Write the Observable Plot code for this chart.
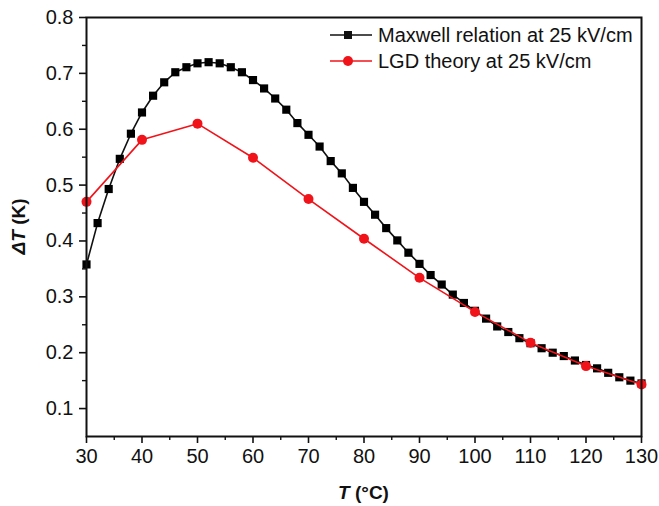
<!DOCTYPE html>
<html>
<head>
<meta charset="utf-8">
<script src="https://cdn.jsdelivr.net/npm/d3@7"></script>
<script src="https://cdn.jsdelivr.net/npm/@observablehq/plot@0.6"></script>
<style>
  html, body { margin: 0; padding: 0; background: #fff; }
  #chart { position: relative; width: 659px; height: 506px; font-family: "Liberation Sans", Arial, sans-serif; }
  #legend { position: absolute; left: 328px; top: 22px; font-size: 20px; color: #111; }
  #legend .row { display: flex; align-items: center; height: 26px; }
  #legend svg { margin-right: 4px; }
</style>
</head>
<body>
<div id="chart"></div>
<script>
// Temperature (°C) of the Maxwell-relation curve, every 2 °C
const maxwellT = d3.range(30, 131, 2);
// ΔT (K) from the Maxwell relation at 25 kV/cm
const maxwellDT = [
  0.358, 0.432, 0.493, 0.547, 0.592, 0.630, 0.660, 0.684, 0.702, 0.711,
  0.718, 0.720, 0.718, 0.711, 0.702, 0.688, 0.673, 0.655, 0.635, 0.611,
  0.590, 0.569, 0.543, 0.521, 0.495, 0.470, 0.447, 0.423, 0.401, 0.379,
  0.359, 0.339, 0.322, 0.304, 0.289, 0.275, 0.261, 0.247, 0.237, 0.226,
  0.217, 0.208, 0.200, 0.194, 0.186, 0.178, 0.172, 0.164, 0.156, 0.150,
  0.145
];
// Temperature (°C) and ΔT (K) from LGD theory at 25 kV/cm
const lgdT = [30, 40, 50, 60, 70, 80, 90, 100, 110, 120, 130];
const lgdDT = [0.470, 0.581, 0.610, 0.549, 0.475, 0.404, 0.334, 0.273, 0.218, 0.176, 0.143];

const xTicks = [30, 40, 50, 60, 70, 80, 90, 100, 110, 120, 130];
const xMinor = [35, 45, 55, 65, 75, 85, 95, 105, 115, 125];
const yTicks = [0.1, 0.2, 0.3, 0.4, 0.5, 0.6, 0.7, 0.8];
const yMinor = [0.15, 0.25, 0.35, 0.45, 0.55, 0.65, 0.75];

const seriesNames = ["Maxwell relation at 25 kV/cm", "LGD theory at 25 kV/cm"];

const maxwell = maxwellT.map((t, i) => ({t, dT: maxwellDT[i]}));
const lgd = lgdT.map((t, i) => ({t, dT: lgdDT[i]}));

const W = 659, H = 506;
const mL = 86, mR = 18, mT = 17, mB = 70;

const chart = Plot.plot({
  width: W,
  height: H,
  marginLeft: mL,
  marginRight: mR,
  marginTop: mT,
  marginBottom: mB,
  style: {fontFamily: "'Liberation Sans', Arial, sans-serif", color: "#111", background: "#fff"},
  x: {domain: [30, 130]},
  y: {domain: [0.05, 0.8]},
  marks: [
    Plot.axisX({ticks: xTicks, tickSize: 7, tickPadding: 5, fontSize: 20, strokeWidth: 1.6, label: null, tickFormat: d3.format("d")}),
    Plot.axisX({ticks: xMinor, tickSize: 4, strokeWidth: 1.4, text: null, label: null}),
    Plot.axisY({ticks: yTicks, tickSize: 7, tickPadding: 6, fontSize: 20, strokeWidth: 1.6, label: null, tickFormat: d3.format(".1f")}),
    Plot.axisY({ticks: yMinor, tickSize: 4, strokeWidth: 1.4, text: null, label: null}),
    Plot.line(maxwell, {x: "t", y: "dT", stroke: "#111", strokeWidth: 1.6}),
    Plot.dot(maxwell, {x: "t", y: "dT", symbol: "square", r: 4.6, fill: "#000", stroke: "none"}),
    Plot.line(lgd, {x: "t", y: "dT", stroke: "#f0141a", strokeWidth: 1.6}),
    Plot.dot(lgd, {x: "t", y: "dT", r: 5, fill: "#f0141a", stroke: "none"}),
    Plot.frame({stroke: "#111", strokeWidth: 2})
  ]
});

// Axis titles with italic symbols
const svg = d3.select(chart);
const xMid = mL + (W - mL - mR) / 2;
const yMid = mT + (H - mT - mB) / 2;
const xt = svg.append("text")
  .attr("x", xMid).attr("y", 499)
  .attr("text-anchor", "middle")
  .attr("font-size", 19).attr("font-weight", "bold").attr("fill", "#111");
xt.append("tspan").attr("font-style", "italic").text("T");
xt.append("tspan").text(" (°C)");
const yt = svg.append("text")
  .attr("transform", `translate(25,${yMid}) rotate(-90)`)
  .attr("text-anchor", "middle")
  .attr("font-size", 19).attr("font-weight", "bold").attr("fill", "#111");
yt.append("tspan").attr("font-style", "italic").text("ΔT");
yt.append("tspan").text(" (K)");

const container = document.getElementById("chart");
container.appendChild(chart);

// Legend
const legend = document.createElement("div");
legend.id = "legend";
const styles = [
  {color: "#111", symbol: "square"},
  {color: "#f0141a", symbol: "circle"}
];
seriesNames.forEach((name, i) => {
  const row = document.createElement("div");
  row.className = "row";
  const s = d3.create("svg").attr("width", 46).attr("height", 20);
  s.append("line").attr("x1", 2).attr("x2", 44).attr("y1", 10).attr("y2", 10)
    .attr("stroke", styles[i].color).attr("stroke-width", 1.6);
  if (styles[i].symbol === "square") {
    s.append("rect").attr("x", 16).attr("y", 6).attr("width", 8).attr("height", 8).attr("fill", styles[i].color);
  } else {
    s.append("circle").attr("cx", 20).attr("cy", 10).attr("r", 5).attr("fill", styles[i].color);
  }
  row.appendChild(s.node());
  const label = document.createElement("span");
  label.textContent = name;
  row.appendChild(label);
  legend.appendChild(row);
});
container.appendChild(legend);
</script>
</body>
</html>
